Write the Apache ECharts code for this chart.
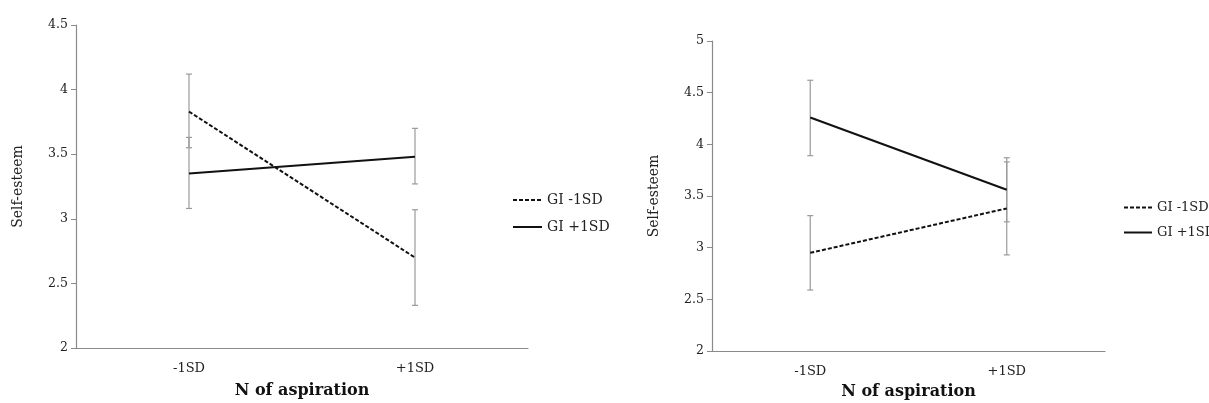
<!DOCTYPE html>
<html>
<head>
<meta charset="utf-8">
<script src="https://cdn.jsdelivr.net/npm/echarts@6/dist/echarts.min.js"></script>
<style>
  html, body { margin: 0; padding: 0; background: #fff; }
  #main { width: 1209px; height: 403px; }
</style>
</head>
<body>
<div id="main"></div>
<script>
// categories and tick labels
var categories = ['-1SD', '+1SD'];
var seriesNames = ['GI -1SD', 'GI +1SD'];

// left panel: means and error bar ends (low, high)
var leftLow = [3.83, 2.70];       // GI -1SD
var leftHigh = [3.35, 3.48];      // GI +1SD
var leftLowErr = [[3.55, 4.12], [2.33, 3.07]];
var leftHighErr = [[3.08, 3.63], [3.27, 3.70]];

// right panel
var rightLow = [2.95, 3.38];
var rightHigh = [4.26, 3.56];
var rightLowErr = [[2.59, 3.31], [2.93, 3.83]];
var rightHighErr = [[3.89, 4.62], [3.25, 3.87]];

var FONT = 'DejaVu Serif';
var chart = echarts.init(document.getElementById('main'));

function errData(errs) {
  return errs.map(function (e, i) { return [i, e[0], e[1]]; });
}

function renderErr(params, api) {
  var lo = api.coord([api.value(0), api.value(1)]);
  var hi = api.coord([api.value(0), api.value(2)]);
  var style = { stroke: '#9a9a9a', lineWidth: 1.2 };
  return {
    type: 'group',
    children: [
      { type: 'line', shape: { x1: lo[0], y1: lo[1], x2: hi[0], y2: hi[1] }, style: style },
      { type: 'line', shape: { x1: lo[0] - 3, y1: lo[1], x2: lo[0] + 3, y2: lo[1] }, style: style },
      { type: 'line', shape: { x1: hi[0] - 3, y1: hi[1], x2: hi[0] + 3, y2: hi[1] }, style: style }
    ]
  };
}

function xAxisFor(idx) {
  return {
    type: 'category',
    gridIndex: idx,
    data: categories,
    name: 'N of aspiration',
    nameLocation: 'middle',
    nameGap: idx === 0 ? 35 : 33,
    nameTextStyle: { fontFamily: FONT, fontWeight: 'bold', fontSize: 16, color: '#111' },
    axisLine: { lineStyle: { color: '#8a8a8a', width: 1.2 } },
    axisTick: { length: 4, lineStyle: { color: '#aaa' } },
    axisLabel: { fontFamily: FONT, fontSize: 13, color: '#222', margin: 14 }
  };
}

function yAxisFor(idx, max) {
  return {
    type: 'value',
    gridIndex: idx,
    min: 2,
    max: max,
    interval: 0.5,
    name: 'Self-esteem',
    nameLocation: 'middle',
    nameGap: 51,
    nameTextStyle: { fontFamily: FONT, fontSize: 14, color: '#222' },
    axisLine: { show: true, lineStyle: { color: '#8a8a8a', width: 1.2 } },
    axisTick: { show: true, length: 5, lineStyle: { color: '#8a8a8a' } },
    axisLabel: { fontFamily: FONT, fontSize: 12.5, color: '#222', margin: 8 },
    splitLine: { show: false }
  };
}

function lineSeries(name, data, idx, dashed) {
  return {
    name: name,
    type: 'line',
    xAxisIndex: idx,
    yAxisIndex: idx,
    data: data,
    symbol: 'none',
    z: 3,
    lineStyle: { color: '#111', width: 2, type: dashed ? [4, 2] : 'solid' },
    itemStyle: { color: '#111' }
  };
}

function errSeries(errs, idx) {
  return {
    type: 'custom',
    xAxisIndex: idx,
    yAxisIndex: idx,
    renderItem: renderErr,
    data: errData(errs),
    z: 2,
    silent: true
  };
}

var legendText = { fontFamily: FONT, fontSize: 14, color: '#222' };
var legendTextSmall = { fontFamily: FONT, fontSize: 13, color: '#222' };

chart.setOption({
  animation: false,
  backgroundColor: '#fff',
  grid: [
    { left: 76, right: 681, top: 25, bottom: 55, outerBoundsMode: 'none' },
    { left: 712, right: 104, top: 41, bottom: 52, outerBoundsMode: 'none' }
  ],
  legend: [
    { data: seriesNames, orient: 'vertical', left: 507, top: 188, itemWidth: 29, itemHeight: 10, itemGap: 13, itemStyle: { opacity: 0 }, textStyle: legendText },
    { data: seriesNames, orient: 'vertical', left: 1118, top: 196, itemWidth: 28, itemHeight: 10, itemGap: 12, itemStyle: { opacity: 0 }, textStyle: legendTextSmall }
  ],
  xAxis: [xAxisFor(0), xAxisFor(1)],
  yAxis: [yAxisFor(0, 4.5), yAxisFor(1, 5)],
  series: [
    errSeries(leftLowErr, 0),
    errSeries(leftHighErr, 0),
    lineSeries(seriesNames[0], leftLow, 0, true),
    lineSeries(seriesNames[1], leftHigh, 0, false),
    errSeries(rightLowErr, 1),
    errSeries(rightHighErr, 1),
    lineSeries(seriesNames[0], rightLow, 1, true),
    lineSeries(seriesNames[1], rightHigh, 1, false)
  ]
});
</script>
</body>
</html>
